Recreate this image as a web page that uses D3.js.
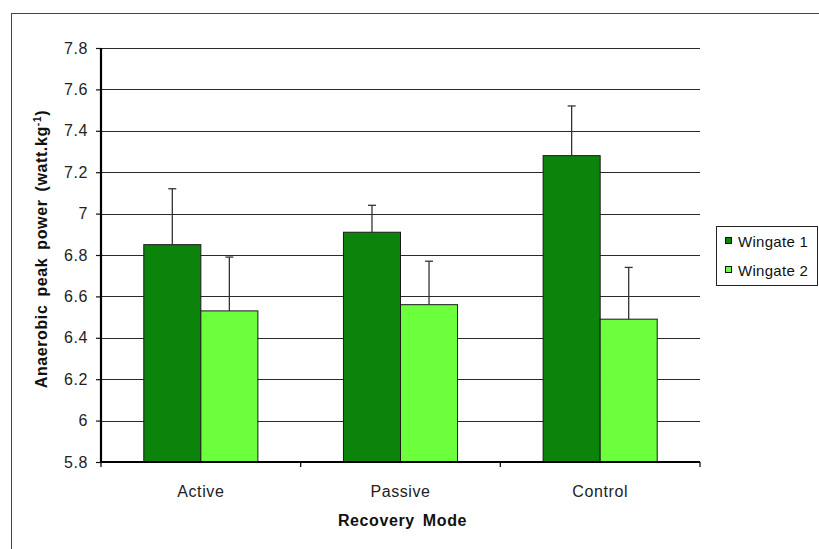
<!DOCTYPE html>
<html>
<head>
<meta charset="utf-8">
<script src="https://cdn.jsdelivr.net/npm/d3@7"></script>
<style>
  html, body { margin: 0; padding: 0; background: #fff; }
  svg { display: block; font-family: "Liberation Sans", Arial, sans-serif; }
</style>
</head>
<body>
<svg id="chart" width="819" height="549"></svg>
<script>
// Recovery modes and the two Wingate tests
const categories = ["Active", "Passive", "Control"];
const seriesNames = ["Wingate 1", "Wingate 2"];
const wingate1 = [6.85, 6.91, 7.28];
const wingate1SD = [0.27, 0.13, 0.24];
const wingate2 = [6.53, 6.56, 6.49];
const wingate2SD = [0.26, 0.21, 0.25];
const yTicks = [5.8, 6.0, 6.2, 6.4, 6.6, 6.8, 7.0, 7.2, 7.4, 7.6, 7.8];
const seriesColors = ["#0c840c", "#6cff3c"];

const means = [wingate1, wingate2];
const sds = [wingate1SD, wingate2SD];

const rows = [];
categories.forEach((c, i) => {
  seriesNames.forEach((s, j) => {
    rows.push({ cat: c, series: s, value: means[j][i], sd: sds[j][i], color: seriesColors[j] });
  });
});

const svg = d3.select("#chart");
const plot = { left: 101, right: 700, top: 48, bottom: 462 };

// Outer chart frame
svg.append("rect")
  .attr("x", 11.5).attr("y", 13.5)
  .attr("width", 840).attr("height", 560)
  .attr("fill", "none").attr("stroke", "#444").attr("stroke-width", 1);

const x = d3.scaleBand().domain(categories).range([plot.left, plot.right]).padding(0);
const bw = x.bandwidth() / 3.5;
const xSub = d3.scaleBand().domain(seriesNames).range([0.75 * bw, 2.75 * bw]).padding(0);
const y = d3.scaleLinear().domain([5.8, 7.8]).range([plot.bottom, plot.top]);

// Horizontal gridlines
svg.append("g").selectAll("line")
  .data(yTicks.filter(t => t > 5.8))
  .join("line")
  .attr("x1", plot.left).attr("x2", plot.right)
  .attr("y1", d => Math.round(y(d)) + 0.5).attr("y2", d => Math.round(y(d)) + 0.5)
  .attr("stroke", "#2a2a2a").attr("stroke-width", 1.2);

// Bars
svg.append("g").selectAll("rect")
  .data(rows)
  .join("rect")
  .attr("x", d => x(d.cat) + xSub(d.series))
  .attr("y", d => y(d.value))
  .attr("width", xSub.bandwidth())
  .attr("height", d => y(5.8) - y(d.value))
  .attr("fill", d => d.color)
  .attr("stroke", "#1a1a1a").attr("stroke-width", 1);

// Error bars (upper standard deviation)
const eg = svg.append("g").attr("stroke", "#333").attr("stroke-width", 1.3);
rows.forEach(d => {
  const cx = x(d.cat) + xSub(d.series) + xSub.bandwidth() / 2;
  eg.append("line").attr("x1", cx).attr("x2", cx)
    .attr("y1", y(d.value)).attr("y2", y(d.value + d.sd));
  eg.append("line").attr("x1", cx - 4).attr("x2", cx + 4)
    .attr("y1", y(d.value + d.sd)).attr("y2", y(d.value + d.sd));
});

// Y axis
const yAxis = d3.axisLeft(y).tickValues(yTicks).tickSize(5).tickPadding(8)
  .tickFormat(d3.format("~g"));
const gy = svg.append("g").attr("transform", `translate(${plot.left},0)`).call(yAxis);
gy.select(".domain").remove();
gy.selectAll(".tick line").attr("stroke", "#111").attr("stroke-width", 1.2);
gy.selectAll(".tick text").attr("font-size", 16).attr("fill", "#222")
  .attr("letter-spacing", 0.6)
  .attr("font-family", "'Liberation Sans', Arial, sans-serif");

// X axis
const gx = svg.append("g").attr("transform", `translate(0,${plot.bottom})`);
gx.selectAll("line.tk")
  .data([...categories.map(c => x(c)), plot.right])
  .join("line").attr("class", "tk")
  .attr("x1", d => d).attr("x2", d => d)
  .attr("y1", 0).attr("y2", 5)
  .attr("stroke", "#111").attr("stroke-width", 1.3);
gx.selectAll("text")
  .data(categories)
  .join("text")
  .attr("x", d => x(d) + x.bandwidth() / 2)
  .attr("y", 35)
  .attr("text-anchor", "middle")
  .attr("font-size", 16).attr("fill", "#222")
  .attr("letter-spacing", 0.6)
  .text(d => d);

// Axis lines
svg.append("line").attr("x1", plot.left).attr("x2", plot.left)
  .attr("y1", plot.top).attr("y2", plot.bottom + 1)
  .attr("stroke", "#000").attr("stroke-width", 2.2);
svg.append("line").attr("x1", plot.left - 1).attr("x2", plot.right)
  .attr("y1", plot.bottom).attr("y2", plot.bottom)
  .attr("stroke", "#000").attr("stroke-width", 2.2);

// Axis titles
svg.append("text")
  .attr("x", (plot.left + plot.right) / 2 + 2).attr("y", 526)
  .attr("text-anchor", "middle")
  .attr("font-size", 16).attr("font-weight", "bold").attr("fill", "#111")
  .attr("letter-spacing", 0.6).attr("word-spacing", 3)
  .text("Recovery Mode");

const yt = svg.append("text")
  .attr("transform", "translate(47,249) rotate(-90)")
  .attr("text-anchor", "middle")
  .attr("font-size", 16).attr("font-weight", "bold").attr("fill", "#111")
  .attr("letter-spacing", 0.6).attr("word-spacing", 3);
yt.append("tspan").text("Anaerobic peak power (watt.kg");
yt.append("tspan").attr("dy", -6).attr("font-size", 10.5).text("-1");
yt.append("tspan").attr("dy", 6).text(")");

// Legend
const lg = svg.append("g");
lg.append("rect").attr("x", 716.5).attr("y", 226.5).attr("width", 101).attr("height", 59)
  .attr("fill", "#fff").attr("stroke", "#222").attr("stroke-width", 1);
seriesNames.forEach((s, i) => {
  lg.append("rect").attr("x", 725.5).attr("y", 237.5 + i * 29).attr("width", 6).attr("height", 6)
    .attr("fill", seriesColors[i]).attr("stroke", "#111").attr("stroke-width", 1);
  lg.append("text").attr("x", 738).attr("y", 247 + i * 29)
    .attr("font-size", 15).attr("fill", "#111")
    .attr("letter-spacing", 0.3)
    .text(s);
});
</script>
</body>
</html>
